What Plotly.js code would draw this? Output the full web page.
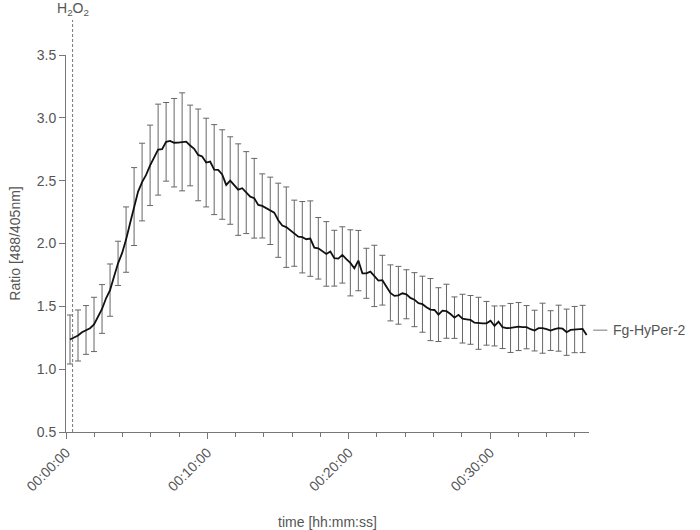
<!DOCTYPE html>
<html>
<head>
<meta charset="utf-8">
<script src="https://cdn.plot.ly/plotly-3.0.1.min.js"></script>
<style>
  body { margin: 0; background: #fff; }
  #container { width: 700px; height: 530px; }
</style>
</head>
<body>
<div id="container"></div>
<script>
// sampling: one ratio reading every 17 s, first one at 17 s
var sampleStep = 17;
var firstSample = 17;

// mean ratio 488/405nm
var ratio = [
  1.236, 1.254, 1.268, 1.294, 1.312, 1.326, 1.356, 1.418, 1.479, 1.564,
  1.629, 1.737, 1.842, 1.923, 2.031, 2.161, 2.294, 2.413, 2.489, 2.546,
  2.622, 2.684, 2.747, 2.751, 2.809, 2.817, 2.802, 2.803, 2.809, 2.811,
  2.780, 2.753, 2.705, 2.692, 2.644, 2.652, 2.588, 2.586, 2.549, 2.466,
  2.501, 2.466, 2.429, 2.440, 2.405, 2.373, 2.360, 2.307, 2.299, 2.281,
  2.260, 2.246, 2.185, 2.143, 2.130, 2.103, 2.082, 2.055, 2.050, 2.034,
  2.039, 1.967, 1.962, 1.940, 1.917, 1.936, 1.883, 1.880, 1.909, 1.875,
  1.846, 1.803, 1.864, 1.763, 1.763, 1.776, 1.742, 1.705, 1.708, 1.657,
  1.607, 1.583, 1.588, 1.604, 1.596, 1.567, 1.553, 1.525, 1.517, 1.493,
  1.474, 1.471, 1.434, 1.466, 1.461, 1.439, 1.410, 1.432, 1.402, 1.397,
  1.392, 1.370, 1.365, 1.365, 1.365, 1.386, 1.344, 1.378, 1.334, 1.326,
  1.328, 1.334, 1.339, 1.334, 1.334, 1.318, 1.307, 1.326, 1.326, 1.318,
  1.307, 1.318, 1.326, 1.322, 1.294, 1.312, 1.315, 1.318, 1.320, 1.272
];

// standard deviation, drawn on every second reading
var ratioSd = [
  0.195, 0.203, 0.194, 0.216, 0.194, 0.208, 0.176, 0.260, 0.310, 0.309, 0.320, 0.362, 0.313, 0.352, 0.390, 0.321,
  0.365, 0.353, 0.358, 0.356, 0.348, 0.364, 0.326, 0.317, 0.255, 0.268, 0.295, 0.320, 0.263, 0.284, 0.300, 0.245,
  0.257, 0.222, 0.224, 0.263, 0.240, 0.199, 0.244, 0.198, 0.223, 0.230, 0.195, 0.215, 0.223, 0.247, 0.214, 0.215,
  0.165, 0.194, 0.194, 0.207, 0.174, 0.159, 0.170, 0.195, 0.191, 0.172, 0.162, 0.199, 0.158, 0.183, 0.184, 0.184, 0.188
];

var tickSeconds = [0, 600, 1200, 1800];
var tickLabels = ['00:00:00', '00:10:00', '00:20:00', '00:30:00'];
var h2o2Time = 28;
var seriesName = 'Fg-HyPer-2';

var time = [];
for (var i = 0; i < ratio.length; i++) time.push(firstSample + i * sampleStep);

var barTime = [], barRatio = [];
for (var j = 0; j < ratio.length; j += 2) {
    barTime.push(time[j]);
    barRatio.push(ratio[j]);
}

var grey = '#777';
var textGrey = '#555';
var font = 'Liberation Sans, Arial, sans-serif';

var bars = {
    x: barTime,
    y: barRatio,
    mode: 'markers',
    type: 'scatter',
    marker: { size: 1, color: 'rgba(0,0,0,0)' },
    error_y: { type: 'data', array: ratioSd, visible: true, color: '#666', thickness: 1, width: 3 },
    hoverinfo: 'skip',
    showlegend: false
};

var line = {
    x: time,
    y: ratio,
    mode: 'lines',
    type: 'scatter',
    name: seriesName,
    line: { color: '#111', width: 1.8 },
    showlegend: false
};

// label sits at the level where the series settles
var tail = ratio.slice(-10);
var tailLevel = tail.reduce(function(a, b){ return a + b; }, 0) / tail.length;

var layout = {
    width: 700,
    height: 530,
    margin: { l: 66, r: 111, t: 55, b: 98 },
    paper_bgcolor: '#fff',
    plot_bgcolor: '#fff',
    font: { family: font, size: 14, color: textGrey },
    xaxis: {
        range: [0, 2220],
        tickvals: tickSeconds,
        ticktext: tickLabels,
        tickangle: -45,
        tickfont: { size: 14 },
        ticks: 'outside',
        ticklen: 6,
        tickcolor: grey,
        showline: true,
        linecolor: grey,
        linewidth: 1,
        showgrid: false,
        zeroline: false,
        minor: { dtick: 120, ticks: 'outside', ticklen: 4, tickcolor: grey, showgrid: false },
        title: { text: 'time [hh:mm:ss]', font: { size: 14, color: textGrey }, standoff: 28 }
    },
    yaxis: {
        range: [0.5, 3.5],
        dtick: 0.5,
        tickformat: '.1f',
        tickfont: { size: 14 },
        ticks: 'outside',
        ticklen: 6,
        tickcolor: grey,
        showline: true,
        linecolor: grey,
        linewidth: 1,
        showgrid: false,
        zeroline: false,
        title: { text: 'Ratio [488/405nm]', font: { size: 14, color: textGrey }, standoff: 12 }
    },
    shapes: [
        { type: 'line', xref: 'x', yref: 'paper', x0: h2o2Time, x1: h2o2Time, y0: 0, y1: 1.093,
          line: { color: grey, width: 1, dash: '3px,2px' } },
        { type: 'line', xref: 'paper', yref: 'y', x0: 1.008, x1: 1.035, y0: tailLevel, y1: tailLevel,
          line: { color: grey, width: 1 } }
    ],
    annotations: [
        { xref: 'x', yref: 'paper', x: h2o2Time, y: 1.093, yanchor: 'bottom', showarrow: false,
          text: 'H<sub>2</sub>O<sub>2</sub>', font: { size: 14, color: textGrey } },
        { xref: 'paper', yref: 'y', x: 1.042, y: tailLevel, xanchor: 'left', showarrow: false,
          text: seriesName, font: { size: 14, color: textGrey } }
    ]
};

Plotly.newPlot('container', [bars, line], layout, { displayModeBar: false, staticPlot: true });
</script>
</body>
</html>
